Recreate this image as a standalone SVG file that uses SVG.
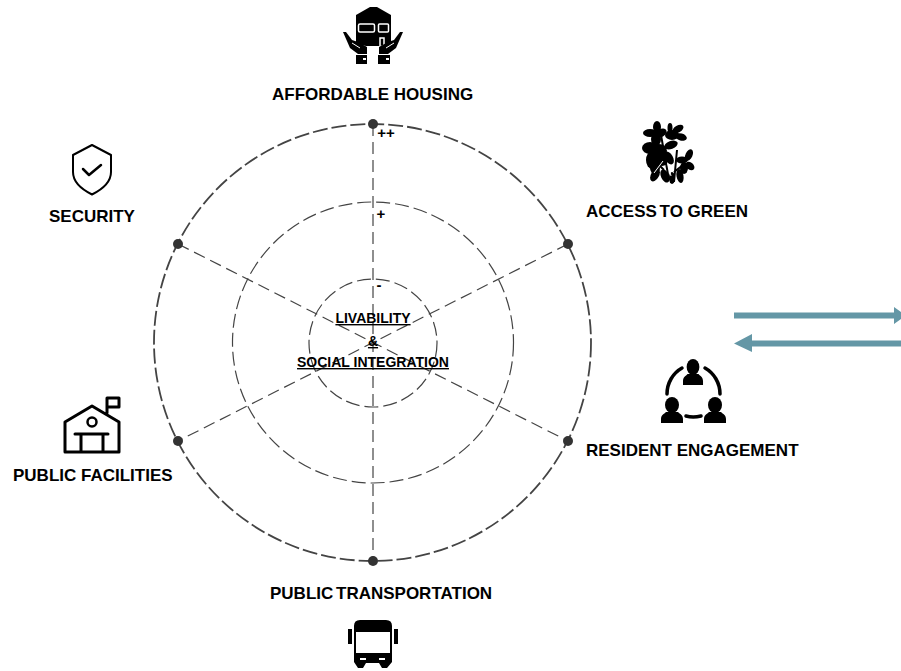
<svg xmlns="http://www.w3.org/2000/svg" width="901" height="671" viewBox="0 0 901 671">
<style>
text{font-family:"Liberation Sans",Arial,sans-serif;font-weight:700;fill:#000}
.lab{font-size:17px}
.c{font-size:14px;text-anchor:middle;text-decoration:underline}
.m{font-size:15px;text-anchor:middle}
.ring{fill:none;stroke:#444}
.sp{fill:none;stroke:#444;stroke-width:1.200;stroke-dasharray:12 6}
.dot{fill:#333}
.k{fill:#000}
.o{fill:none;stroke:#000;stroke-linejoin:round;stroke-linecap:round}
.w{fill:none;stroke:#fff}
.arrow{fill:#6497a6}
</style>
<defs>
<g id="person">
<ellipse class="k" cx="11" cy="8" rx="7" ry="8"/>
<path class="k" d="M0 26V22C0 18 3 17 5 15H17C19 17 22 18 22 22V26Z"/>
</g>
</defs>
<rect width="901" height="671" fill="#fff"/>
<g id="connectors">
<path class="sp" d="M373 124V561"/>
<path class="sp" d="M178 244L568 441"/>
<path class="sp" d="M568 244L178 441"/>
<circle class="ring" cx="372.500" cy="342.500" r="218.500" stroke-width="1.800" stroke-dasharray="15 4"/>
<circle class="ring" cx="373" cy="342.500" r="140.500" stroke-width="1.200" stroke-dasharray="14 5"/>
<circle class="ring" cx="373" cy="343" r="64" stroke-width="1.200" stroke-dasharray="14 5"/>
<circle class="dot" cx="373" cy="124" r="5"/>
<circle class="dot" cx="568" cy="244" r="5"/>
<circle class="dot" cx="568" cy="441" r="5"/>
<circle class="dot" cx="373" cy="561" r="5"/>
<circle class="dot" cx="178" cy="441" r="5"/>
<circle class="dot" cx="178" cy="244" r="5"/>
<path class="arrow" d="M734 312.500H894V307L906 315.500 894 324V318.500H734Z"/>
<path class="arrow" d="M901 340.500H752V334L734 343.500 752 352V346.500H901Z"/>
</g>
<g id="center">
<text class="c" x="373" y="323">LIVABILITY</text>
<text class="c" x="373" y="346">&amp;</text>
<text class="c" x="373" y="367">SOCIAL INTEGRATION</text>
<text class="m" x="386" y="138">++</text>
<text class="m" x="381" y="219">+</text>
<text class="m" x="379" y="290">-</text>
</g>
<g id="affordable-housing">
<path class="k" d="M356 15L370 7H377L391 15V46H356Z"/>
<rect class="w" x="358.500" y="24" width="16" height="8" rx="1.500" stroke-width="1.500"/>
<rect class="w" x="378.500" y="24" width="10" height="8" rx="1" stroke-width="1.500"/>
<path class="w" d="M380 46V38H384V46" stroke-width="1.500"/>
<path d="M349 37L353 42 358 44 366 46V56H358L349 50Z" fill="#fff"/>
<path d="M397 37L393 42 388 44 380 46V56H388L397 50Z" fill="#fff"/>
<path class="k" d="M343 32H346L352 40 358 42 367 47V54H358L350 48Z"/>
<path class="k" d="M403 32H400L394 40 388 42 379 47V54H388L396 48Z"/>
<path d="M352 43L360 48" stroke="#fff" stroke-width="1"/>
<path d="M394 43L386 48" stroke="#fff" stroke-width="1"/>
<rect class="k" x="356" y="55" width="11" height="9"/>
<rect class="k" x="378" y="55" width="12" height="9"/>
<rect x="363" y="58" width="3" height="2" fill="#fff"/>
<rect x="386" y="58" width="3" height="2" fill="#fff"/>
<text class="lab" x="272" y="100">AFFORDABLE HOUSING</text>
</g>
<g id="access-to-green">
<ellipse class="k" cx="657" cy="127" rx="4" ry="6"/>
<ellipse class="k" cx="650" cy="133" rx="7" ry="4"/>
<ellipse class="k" cx="661" cy="133" rx="6" ry="4" transform="rotate(-30 661 133)"/>
<ellipse class="k" cx="656" cy="139" rx="5" ry="7"/>
<ellipse class="k" cx="670" cy="128" rx="2.500" ry="5"/>
<ellipse class="k" cx="678" cy="129" rx="6" ry="3.500" transform="rotate(-30 678 129)"/>
<ellipse class="k" cx="681" cy="137" rx="6" ry="3.500" transform="rotate(15 681 137)"/>
<ellipse class="k" cx="672" cy="135" rx="7" ry="5"/>
<ellipse class="k" cx="671" cy="145" rx="7" ry="4" transform="rotate(-20 671 145)"/>
<ellipse class="k" cx="650" cy="148" rx="8" ry="6"/>
<ellipse class="k" cx="659" cy="151" rx="8" ry="7"/>
<ellipse class="k" cx="652" cy="160" rx="6" ry="9"/>
<ellipse class="k" cx="662" cy="160" rx="6" ry="6"/>
<ellipse class="k" cx="655" cy="168" rx="5" ry="6"/>
<ellipse class="k" cx="669" cy="158" rx="4" ry="7" transform="rotate(-30 669 158)"/>
<ellipse class="k" cx="655" cy="175" rx="4" ry="7" transform="rotate(30 655 175)"/>
<ellipse class="k" cx="665" cy="176" rx="4" ry="7" transform="rotate(-25 665 176)"/>
<ellipse class="k" cx="672" cy="178" rx="3" ry="6"/>
<ellipse class="k" cx="680" cy="176" rx="3.500" ry="7" transform="rotate(-10 680 176)"/>
<ellipse class="k" cx="689" cy="155" rx="3.500" ry="6" transform="rotate(25 689 155)"/>
<ellipse class="k" cx="682" cy="160" rx="6" ry="3.500"/>
<ellipse class="k" cx="690" cy="166" rx="5" ry="3.500" transform="rotate(40 690 166)"/>
<ellipse class="k" cx="684" cy="168" rx="4" ry="6"/>
<path d="M661 135L669 180M677 150L674 182M654 160L664 170M683 165L674 172" stroke="#000" stroke-width="2" fill="none"/>
<path d="M654 173L663 161M668 164L671 176" stroke="#fff" stroke-width="1" fill="none"/>
<text class="lab" x="586" y="217">ACCESS<tspan dx="-2"> TO GREEN</tspan></text>
</g>
<g id="resident-engagement">
<use href="#person" transform="translate(683 359) scale(.91 1)"/>
<use href="#person" x="661" y="397"/>
<use href="#person" x="704" y="397"/>
<path class="o" d="M667 394C667 383 673 373 682 368M720 394C720 383 714 373 705 368M686 416Q693 418 701 416" stroke-width="3.500"/>
<text class="lab" x="586" y="456">RESIDENT ENGAGEMENT</text>
</g>
<g id="public-transportation">
<path class="k" d="M354 626Q354 620 360 620H386Q392 620 392 626V662L387 668H382L379 663H366L363 668H358L354 662Z"/>
<rect x="356" y="632" width="34" height="21" fill="#fff"/>
<rect x="360" y="658" width="6" height="2" fill="#fff"/>
<rect x="379" y="658" width="6" height="2" fill="#fff"/>
<rect class="k" x="348" y="629" width="4" height="15"/>
<rect class="k" x="394" y="629" width="4" height="15"/>
<text class="lab" x="270" y="599">PUBLIC<tspan dx="-2"> TRANSPORTATION</tspan></text>
</g>
<g id="public-facilities">
<path class="o" d="M65 452V422L92 406 119 422V452ZM75 434H108M81 434V452M103 434V452M107 413V398H119V407H107" stroke-width="3"/>
<circle class="o" cx="92" cy="422" r="4.500" stroke-width="2.500"/>
<text class="lab" x="13" y="481">PUBLIC FACILITIES</text>
</g>
<g id="security">
<path class="o" d="M92 145L111 155V172C111 183 101 190 92 194.500C83 190 73 183 73 172V155Z" stroke-width="2"/>
<path class="o" d="M83 169L89 175 101 165" stroke-width="2.500"/>
<text class="lab" x="49" y="222">SECURITY</text>
</g>
</svg>
